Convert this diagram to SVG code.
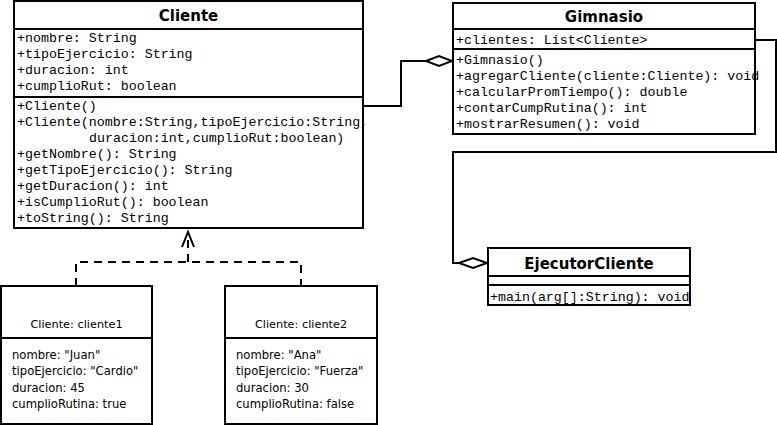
<svg xmlns="http://www.w3.org/2000/svg" width="777" height="425" viewBox="0 0 777 425">
<style>
.box{fill:#fff;stroke:#000;stroke-width:2}
.sep{stroke:#000;stroke-width:2}
.title{font-family:"DejaVu Sans",Verdana,sans-serif;font-weight:bold;font-size:15px;text-anchor:middle;fill:#000}
.mono{font-family:"Liberation Mono","Courier New",monospace;font-size:13.3px;fill:#000}
.obj{font-family:"DejaVu Sans",Verdana,sans-serif;font-size:11.6px;fill:#000}
.objt{font-family:"DejaVu Sans",Verdana,sans-serif;font-size:11.3px;fill:#000;text-anchor:middle}
.line{fill:none;stroke:#000;stroke-width:2}
.dash{fill:none;stroke:#000;stroke-width:2;stroke-dasharray:8 6}
.dia{fill:#fff;stroke:#000;stroke-width:2}
</style>
<rect width="777" height="425" fill="#fff"/>
<g id="connectors">
<polyline class="line" points="363,106 401,106 401,61 426,61"/>
<polygon class="dia" points="426,61 439,56 452,61 439,66"/>
<polyline class="line" points="755,40 776,40 776,152 453,152 453,263 459,263"/>
<polygon class="dia" points="459,263 473,258 487,263 473,268"/>
<polyline class="dash" points="76,286 76,262 301,262 301,286"/>
<line class="dash" x1="188" y1="262" x2="188" y2="236"/>
<polyline class="line" points="182,247 188,232 194,247"/>
</g>
<g id="Cliente">
<rect class="box" x="14" y="1" width="349" height="227"/>
<line class="sep" x1="14" y1="29" x2="363" y2="29"/>
<line class="sep" x1="14" y1="97" x2="363" y2="97"/>
<text class="title" x="188.5" y="21">Cliente</text>
<text class="mono" x="17" y="42">+nombre: String</text>
<text class="mono" x="17" y="58">+tipoEjercicio: String</text>
<text class="mono" x="17" y="74">+duracion: int</text>
<text class="mono" x="17" y="90">+cumplioRut: boolean</text>
<text class="mono" x="17" y="110">+Cliente()</text>
<text class="mono" x="17" y="126">+Cliente(nombre:String,tipoEjercicio:String,</text>
<text class="mono" x="89" y="142">duracion:int,cumplioRut:boolean)</text>
<text class="mono" x="17" y="158">+getNombre(): String</text>
<text class="mono" x="17" y="174">+getTipoEjercicio(): String</text>
<text class="mono" x="17" y="190">+getDuracion(): int</text>
<text class="mono" x="17" y="206">+isCumplioRut(): boolean</text>
<text class="mono" x="17" y="222">+toString(): String</text>
</g>
<g id="Gimnasio">
<rect class="box" x="453" y="3" width="302" height="131"/>
<line class="sep" x1="453" y1="29" x2="755" y2="29"/>
<line class="sep" x1="453" y1="49" x2="755" y2="49"/>
<text class="title" x="604" y="22">Gimnasio</text>
<text class="mono" x="456" y="44">+clientes: List&lt;Cliente&gt;</text>
<text class="mono" x="456" y="64">+Gimnasio()</text>
<text class="mono" x="456" y="80">+agregarCliente(cliente:Cliente): void</text>
<text class="mono" x="456" y="96">+calcularPromTiempo(): double</text>
<text class="mono" x="456" y="112">+contarCumpRutina(): int</text>
<text class="mono" x="456" y="128">+mostrarResumen(): void</text>
</g>
<g id="EjecutorCliente">
<rect class="box" x="488" y="248" width="202" height="57"/>
<line class="sep" x1="488" y1="276" x2="690" y2="276"/>
<line class="sep" x1="488" y1="285" x2="690" y2="285"/>
<text class="title" x="589" y="269">EjecutorCliente</text>
<text class="mono" x="490" y="301">+main(arg[]:String): void</text>
</g>
<g id="cliente1">
<rect class="box" x="1" y="286" width="151" height="138"/>
<line class="sep" x1="1" y1="338" x2="152" y2="338"/>
<text class="objt" x="76.5" y="328">Cliente: cliente1</text>
<text class="obj" x="12" y="359">nombre: "Juan"</text>
<text class="obj" x="12" y="375">tipoEjercicio: "Cardio"</text>
<text class="obj" x="12" y="392">duracion: 45</text>
<text class="obj" x="12" y="408">cumplioRutina: true</text>
</g>
<g id="cliente2">
<rect class="box" x="225" y="286" width="152" height="138"/>
<line class="sep" x1="225" y1="338" x2="377" y2="338"/>
<text class="objt" x="301" y="328">Cliente: cliente2</text>
<text class="obj" x="236" y="359">nombre: "Ana"</text>
<text class="obj" x="236" y="375">tipoEjercicio: "Fuerza"</text>
<text class="obj" x="236" y="392">duracion: 30</text>
<text class="obj" x="236" y="408">cumplioRutina: false</text>
</g>
</svg>
